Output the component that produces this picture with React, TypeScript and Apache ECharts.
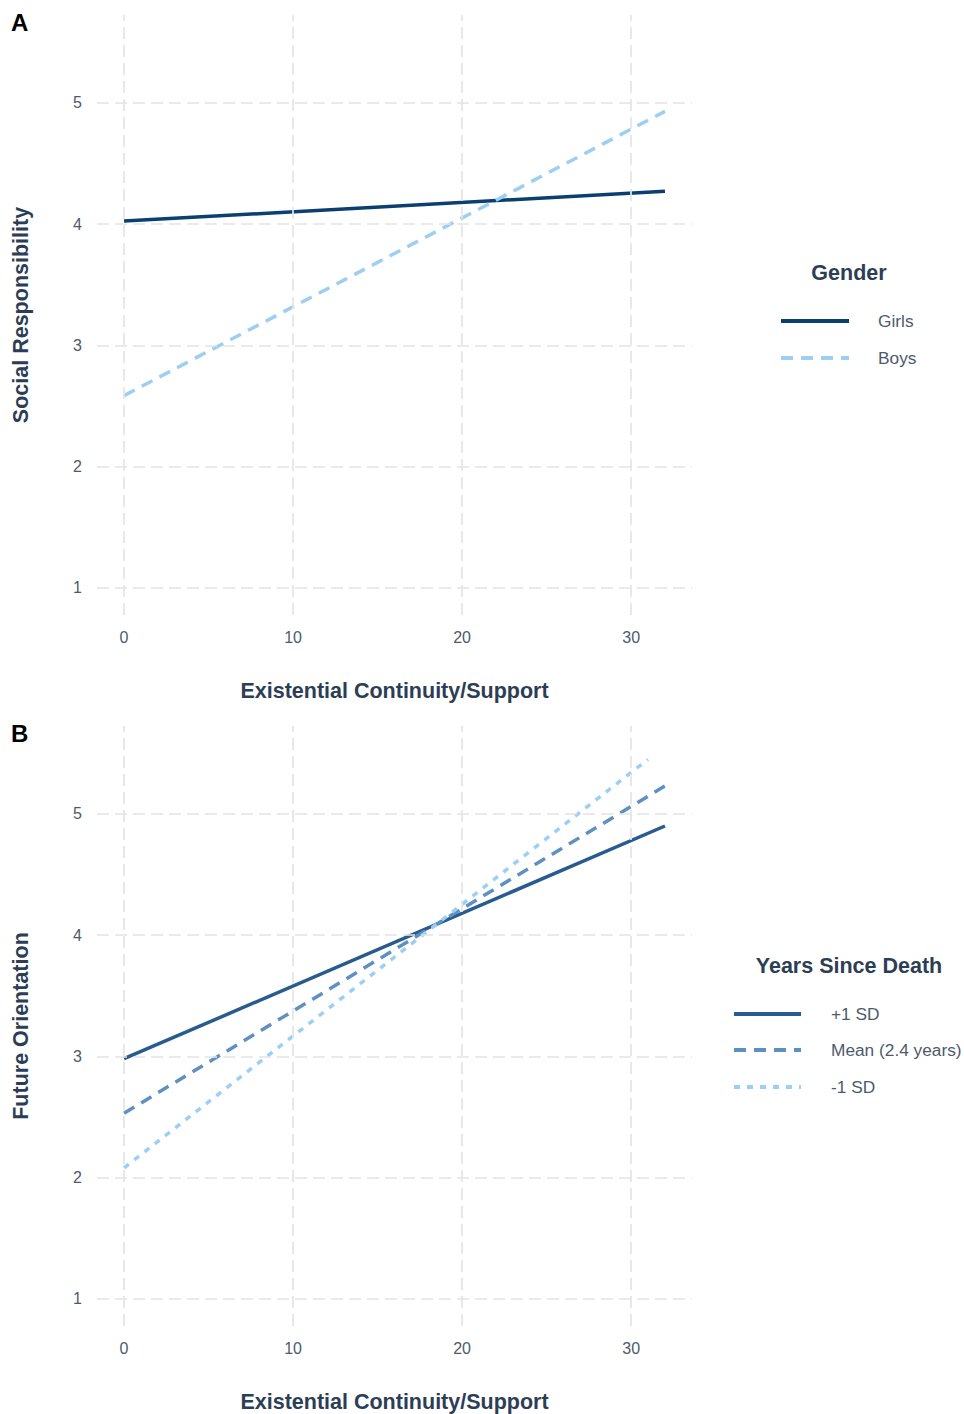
import React, { useEffect, useRef } from "react";
import * as echarts from "echarts";

// ---- data ----
const xTicks = [0, 10, 20, 30];
const yTicks = [1, 2, 3, 4, 5];
const xLabel = "Existential Continuity/Support";
const yLabelA = "Social Responsibility";
const yLabelB = "Future Orientation";

const genderNames = ["Girls", "Boys"];
const girls = [[0, 4.025], [32, 4.27]];
const boys = [[0, 2.585], [32, 4.93]];

const yearsNames = ["+1 SD", "Mean (2.4 years)", "-1 SD"];
const plus1SD = [[0, 2.98], [32, 4.9]];
const meanYears = [[0, 2.53], [32, 5.23]];
const minus1SD = [[0, 2.08], [31, 5.45]];

// ---- styles ----
const FONT = "Liberation Sans";
const TITLE_COLOR = "#2c3e55";
const TICK_COLOR = "#4d5b6b";
const GRID_COLOR = "#e4e4e4";
const C_GIRLS = "#0b3f70";
const C_BOYS = "#9ccff3";
const C_PLUS = "#2a5b8e";
const C_MEAN = "#5f90c2";
const C_MINUS = "#9ccff3";

const DASH = [12, 8];
const DOT = [6, 7];
const LW = 3.5;

function makeAxes(gridIndex: number, yName: string) {
  const xAxis = {
    type: "value",
    gridIndex,
    min: -1.6,
    max: 33.6,
    axisLine: { show: false },
    axisTick: { show: false },
    splitLine: { show: false },
    axisLabel: {
      customValues: xTicks,
      color: TICK_COLOR,
      fontSize: 16,
      fontFamily: FONT,
      margin: 14,
    },
    name: xLabel,
    nameLocation: "middle",
    nameGap: 65,
    nameTextStyle: { color: TITLE_COLOR, fontSize: 21.5, fontWeight: "bold", fontFamily: FONT },
  };
  const yAxis = {
    type: "value",
    gridIndex,
    min: 0.775,
    max: 5.725,
    axisLine: { show: false },
    axisTick: { show: false },
    splitLine: { show: false },
    axisLabel: {
      customValues: yTicks,
      color: TICK_COLOR,
      fontSize: 16,
      fontFamily: FONT,
      margin: 15,
    },
    name: yName,
    nameLocation: "middle",
    nameGap: 65,
    nameTextStyle: { color: TITLE_COLOR, fontSize: 21.5, fontWeight: "bold", fontFamily: FONT },
  };
  return { xAxis, yAxis };
}

function gridSeries(idx: number) {
  return {
    type: "line",
    xAxisIndex: idx,
    yAxisIndex: idx,
    data: [[0, 1]],
    symbol: "none",
    lineStyle: { opacity: 0 },
    silent: true,
    z: 1,
    markLine: {
      silent: true,
      symbol: "none",
      label: { show: false },
      lineStyle: { color: GRID_COLOR, width: 1.7, type: [12, 6] },
      data: [
        ...xTicks.map((v) => ({ xAxis: v })),
        ...yTicks.map((v) => ({ yAxis: v })),
      ],
    },
  };
}

function lineSeries(idx: number, name: string, data: number[][], color: string, type: any) {
  return {
    type: "line",
    name,
    xAxisIndex: idx,
    yAxisIndex: idx,
    data,
    symbol: "none",
    z: 3,
    lineStyle: { color, width: LW, type, cap: "butt" },
  };
}

function legendItems(
  titleText: string,
  titleX: number,
  titleY: number,
  lineX0: number,
  lineX1: number,
  textX: number,
  ys: number[],
  names: string[],
  colors: string[],
  dashes: any[]
) {
  const els: any[] = [
    {
      type: "text",
      x: titleX,
      y: titleY,
      style: {
        text: titleText,
        fill: TITLE_COLOR,
        font: `bold 21.5px "${FONT}"`,
        textAlign: "center",
        textVerticalAlign: "middle",
      },
    },
  ];
  names.forEach((n, i) => {
    els.push({
      type: "line",
      shape: { x1: lineX0, y1: ys[i], x2: lineX1, y2: ys[i] },
      style: { stroke: colors[i], lineWidth: 3.8, lineDash: dashes[i] },
    });
    els.push({
      type: "text",
      x: textX,
      y: ys[i],
      style: {
        text: n,
        fill: TICK_COLOR,
        font: `17.3px "${FONT}"`,
        textAlign: "left",
        textVerticalAlign: "middle",
      },
    });
  });
  return els;
}

export default function App() {
  const ref = useRef<HTMLDivElement>(null);
  useEffect(() => {
    if (!ref.current) return;
    const chart = echarts.init(ref.current, undefined, { renderer: "svg" });
    const a = makeAxes(0, yLabelA);
    const b = makeAxes(1, yLabelB);
    const graphic: any[] = [
      {
        type: "text",
        x: 11,
        y: 10,
        style: { text: "A", fill: "#000", font: `bold 24px "${FONT}"` },
      },
      {
        type: "text",
        x: 11,
        y: 721,
        style: { text: "B", fill: "#000", font: `bold 24px "${FONT}"` },
      },
    ];
    const legA = legendItems("Gender", 849, 273, 781, 849, 878, [321, 358], genderNames, [C_GIRLS, C_BOYS], [null, DASH]);
    const legB = legendItems(
      "Years Since Death",
      849,
      966,
      734,
      801,
      831,
      [1014, 1050, 1087],
      yearsNames,
      [C_PLUS, C_MEAN, C_MINUS],
      [null, DASH, DOT]
    );
    graphic.push(...legA, ...legB);

    chart.setOption({
      animation: false,
      backgroundColor: "#ffffff",
      textStyle: { fontFamily: FONT },
      grid: [
        { left: 97, top: 15, width: 595, height: 600, containLabel: false },
        { left: 97, top: 726, width: 595, height: 600, containLabel: false },
      ],
      xAxis: [a.xAxis, b.xAxis],
      yAxis: [a.yAxis, b.yAxis],
      series: [
        gridSeries(0),
        gridSeries(1),
        lineSeries(0, genderNames[0], girls, C_GIRLS, "solid"),
        lineSeries(0, genderNames[1], boys, C_BOYS, DASH),
        lineSeries(1, yearsNames[0], plus1SD, C_PLUS, "solid"),
        lineSeries(1, yearsNames[1], meanYears, C_MEAN, DASH),
        lineSeries(1, yearsNames[2], minus1SD, C_MINUS, DOT),
      ],
      graphic,
    });
    return () => chart.dispose();
  }, []);
  return (
    <div
      ref={ref}
      style={{ position: "fixed", left: 0, top: 0, width: 964, height: 1414, background: "#fff" }}
    />
  );
}
